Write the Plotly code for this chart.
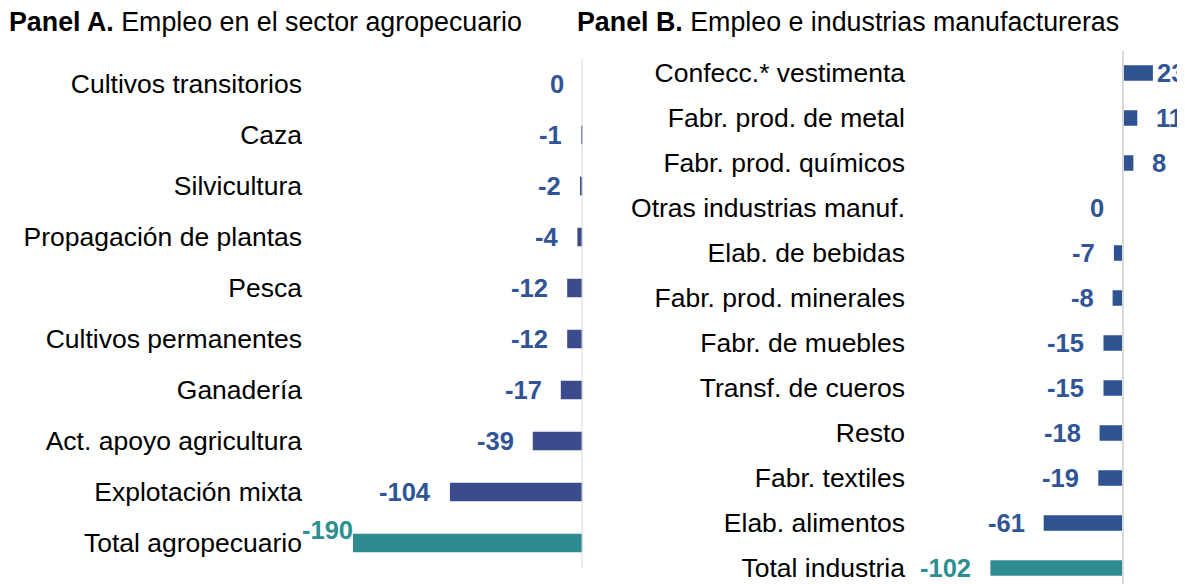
import plotly.graph_objects as go

# ---------------- data ----------------
a_title_bold = "Panel A."
a_title_rest = "Empleo en el sector agropecuario"
a_cats = ["Cultivos transitorios", "Caza", "Silvicultura", "Propagación de plantas",
          "Pesca", "Cultivos permanentes", "Ganadería", "Act. apoyo agricultura",
          "Explotación mixta", "Total agropecuario"]
a_vals = [0, -1, -2, -4, -12, -12, -17, -39, -104, -190]

b_title_bold = "Panel B."
b_title_rest = "Empleo e industrias manufactureras"
b_cats = ["Confecc.* vestimenta", "Fabr. prod. de metal", "Fabr. prod. químicos",
          "Otras industrias manuf.", "Elab. de bebidas", "Fabr. prod. minerales",
          "Fabr. de muebles", "Transf. de cueros", "Resto", "Fabr. textiles",
          "Elab. alimentos", "Total industria"]
b_vals = [23, 11, 8, 0, -7, -8, -15, -15, -18, -19, -61, -102]

# ---------------- style ----------------
WIN_W, WIN_H = 1185, 584
OFF = 8                      # default page body margin
W, H = WIN_W - OFF, WIN_H - OFF
FONT = "Arial, Liberation Sans, sans-serif"
BLUE_A = "#3B4B8C"
BLUE_B = "#2F5391"
TEAL = "#2E8C90"
LBL_BLUE = "#2F5597"
LBL_TEAL = "#2E8F91"
AXIS_GRAY = "#D9D9D9"
CAT_SIZE = 26.5
TITLE_SIZE = 26.8
LBL_SIZE = 25.5

A_RANGE = [-180, 0]
B_RANGE = [-160, 47.7]


def is_total(c):
    return c.startswith("Total")


def px(x):
    """window pixel x -> paper fraction"""
    return (x - OFF) / W


def py(y):
    """window pixel y -> paper fraction"""
    return 1 - (y - OFF) / H


fig = go.Figure()

fig.add_trace(go.Bar(
    x=a_vals, y=a_cats, orientation="h",
    marker=dict(color=[TEAL if is_total(c) else BLUE_A for c in a_cats], line=dict(width=0)),
    width=0.36, xaxis="x", yaxis="y", showlegend=False, hoverinfo="skip",
))
fig.add_trace(go.Bar(
    x=b_vals, y=b_cats, orientation="h",
    marker=dict(color=[TEAL if is_total(c) else BLUE_B for c in b_cats], line=dict(width=0)),
    width=0.345, xaxis="x2", yaxis="y2", showlegend=False, hoverinfo="skip",
))

annotations = []


def add_labels(cats, vals, xref, yref, xmin, max_pos):
    for c, v in zip(cats, vals):
        color = LBL_TEAL if is_total(c) else LBL_BLUE
        x = v
        yshift = 0
        if v < xmin:  # bar clipped at axis minimum: label sits at the clipped end, raised
            x = xmin
            xanchor, xshift, yshift = "right", 2, 13
        elif v > 0:
            xanchor = "left"
            xshift = 2 if v == max_pos else 17
        else:
            xanchor, xshift = "right", -17
        annotations.append(dict(
            x=x, y=c, xref=xref, yref=yref, text=f"<b>{v}</b>", showarrow=False,
            xanchor=xanchor, yanchor="middle", xshift=xshift, yshift=yshift,
            font=dict(family=FONT, size=LBL_SIZE, color=color),
        ))


add_labels(a_cats, a_vals, "x", "y", A_RANGE[0], max(a_vals))
add_labels(b_cats, b_vals, "x2", "y2", B_RANGE[0], max(b_vals))

annotations.append(dict(
    x=px(7), y=py(22), xref="paper", yref="paper", xanchor="left", yanchor="middle",
    text=f"<b>{a_title_bold}</b> {a_title_rest}", showarrow=False,
    font=dict(family=FONT, size=TITLE_SIZE, color="#000000"),
))
annotations.append(dict(
    x=px(575), y=py(22), xref="paper", yref="paper", xanchor="left", yanchor="middle",
    text=f"<b>{b_title_bold}</b> {b_title_rest}", showarrow=False,
    font=dict(family=FONT, size=TITLE_SIZE, color="#000000"),
))

# panel geometry (window pixels)
A_LEFT, A_ZERO, A_TOP, A_BOT = 353, 582.5, 58.5, 568.5
B_LEFT, B_TOP, B_ROW, B_FIRST = 915, 50.5, 45, 73
b_bottom_idx = (len(b_cats) - 1) + (WIN_H - (B_FIRST + B_ROW * (len(b_cats) - 1))) / B_ROW

axis_common = dict(showgrid=False, zeroline=False, showline=False, showticklabels=False, ticks="")
y_common = dict(showgrid=False, zeroline=False, showline=False, ticks="", type="category",
                tickfont=dict(family=FONT, size=CAT_SIZE, color="#000000"))

fig.update_layout(
    width=W, height=H,
    margin=dict(l=0, r=0, t=0, b=0),
    paper_bgcolor="white", plot_bgcolor="white",
    xaxis=dict(domain=[px(A_LEFT), px(A_ZERO)], range=A_RANGE, anchor="y", **axis_common),
    yaxis=dict(domain=[py(A_BOT), py(A_TOP)], anchor="x",
               categoryorder="array", categoryarray=a_cats,
               range=[len(a_cats) - 0.5, -0.5], ticklabelstandoff=50, **y_common),
    xaxis2=dict(domain=[px(B_LEFT), 1.0], range=B_RANGE, anchor="y2", **axis_common),
    yaxis2=dict(domain=[0.0, py(B_TOP)], anchor="x2",
                categoryorder="array", categoryarray=b_cats,
                range=[b_bottom_idx, -0.5], ticklabelstandoff=9, **y_common),
    annotations=annotations,
    shapes=[
        dict(type="line", xref="x", yref="y domain", x0=0, x1=0, y0=0, y1=1,
             line=dict(color=AXIS_GRAY, width=2), layer="above"),
        dict(type="line", xref="x2", yref="y2 domain", x0=0, x1=0, y0=0, y1=1,
             line=dict(color=AXIS_GRAY, width=2), layer="above"),
    ],
)

fig.write_html("out.html")
